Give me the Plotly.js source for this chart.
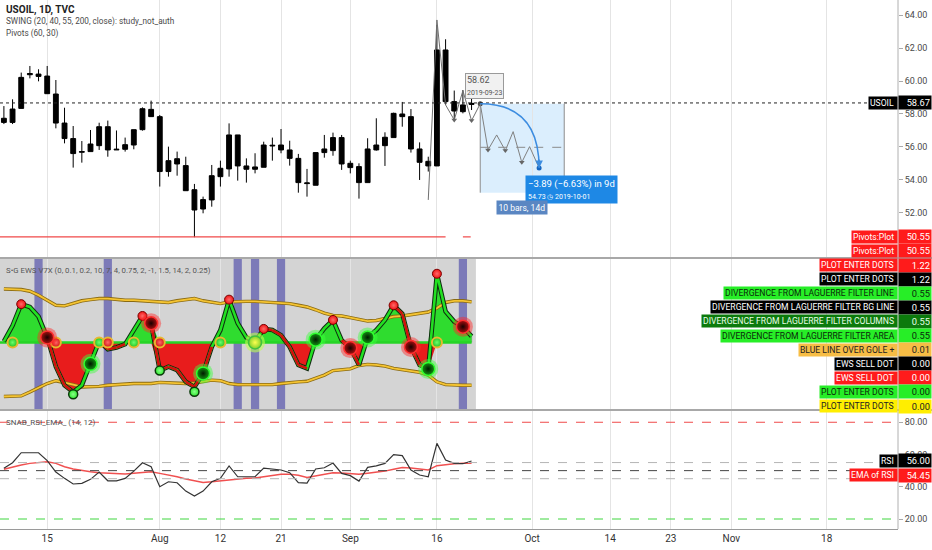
<!DOCTYPE html>
<html>
<head>
<meta charset="utf-8">
<script src="https://cdn.plot.ly/plotly-3.0.1.min.js"></script>
<style>body{margin:0;background:#fff} #plot{width:932px;height:550px}</style>
</head>
<body>
<div id="plot"></div>
<script>
// trading days shown (bar index = position in this list)
var dates = ['2019-07-08','2019-07-09','2019-07-10','2019-07-11','2019-07-12','2019-07-15','2019-07-16','2019-07-17','2019-07-18','2019-07-19',
  '2019-07-22','2019-07-23','2019-07-24','2019-07-25','2019-07-26','2019-07-29','2019-07-30','2019-07-31','2019-08-01','2019-08-02',
  '2019-08-05','2019-08-06','2019-08-07','2019-08-08','2019-08-09','2019-08-12','2019-08-13','2019-08-14','2019-08-15','2019-08-16',
  '2019-08-19','2019-08-20','2019-08-21','2019-08-22','2019-08-23','2019-08-26','2019-08-27','2019-08-28','2019-08-29','2019-08-30',
  '2019-09-02','2019-09-03','2019-09-04','2019-09-05','2019-09-06','2019-09-09','2019-09-10','2019-09-11','2019-09-12','2019-09-13',
  '2019-09-16','2019-09-17','2019-09-18','2019-09-19','2019-09-20'];

// USOIL daily candles
var open  = [57.49,57.49,58.34,60.38,60.42,60.30,59.21,57.45,56.51,55.68,55.72,56.08,57.23,55.82,55.86,56.12,57.05,58.28,57.84,54.51,
  55.29,54.87,53.41,52.24,52.79,54.20,54.67,56.73,54.85,54.65,54.77,56.06,56.12,55.82,55.31,53.78,53.68,55.66,55.78,56.57,
  55.01,54.81,53.84,55.82,56.08,56.57,58.00,57.84,55.88,55.13,54.85,61.88,58.75,58.14,58.58];
var high  = [58.48,58.89,60.51,60.91,60.71,60.91,60.06,58.38,57.27,56.36,57.03,57.47,57.60,57.00,56.57,57.05,58.40,58.81,57.94,56.02,
  55.72,55.41,53.76,52.99,54.91,55.17,57.43,56.73,55.31,55.62,56.32,56.57,57.09,56.38,55.58,54.67,55.66,56.73,56.87,56.73,
  55.17,55.01,56.53,57.74,56.89,58.08,58.73,58.30,56.28,55.41,63.40,62.53,59.42,59.45,59.15];
var low   = [57.39,57.39,58.34,60.16,59.98,59.23,57.13,56.22,54.75,55.05,55.72,55.82,55.41,55.82,55.72,55.86,56.99,57.84,53.60,54.20,
  54.26,53.35,50.53,51.98,52.38,53.60,54.20,53.96,53.84,54.40,54.77,55.17,55.62,54.87,53.23,52.99,53.68,55.35,55.47,54.61,
  54.40,52.87,53.84,55.78,54.85,56.57,57.23,55.66,54.00,54.51,54.85,58.55,57.64,58.04,58.24];
var close = [57.74,58.30,60.22,60.45,60.28,59.23,57.45,56.51,55.60,55.72,56.18,57.23,55.82,55.86,56.14,57.05,58.32,57.84,54.51,55.17,
  54.97,53.35,52.18,52.81,54.26,54.71,56.73,54.85,54.65,54.79,56.12,56.10,55.82,55.31,53.84,53.82,55.66,55.88,56.57,54.97,
  54.75,53.84,55.88,56.12,56.59,58.04,57.84,55.88,55.07,54.85,61.88,58.75,58.18,58.55,58.64];

// x axis ticks (bar index, label)
var tickIdx  = [5, 18, 25, 32, 40, 50, 61, 70, 77, 84, 95];
var tickText = ['15','Aug','12','21','Sep','16','Oct','14','23','Nov','18'];
var priceTicks = [52, 54, 56, 58, 60, 62, 64];
var rsiTicks = [20, 40, 60, 80];

// price levels and drawings
var lastPrice = 58.67;
var pivotLevel = 50.55;
var pivotSpans = [[-1, 51], [53, 53.9]];
var swingX = [49, 50, 51, 52, 53, 54, 55];
var swingY = [52.79, 63.70, 58.55, 57.64, 59.41, 57.60, 58.62];
var projX = [55, 55.9, 56.9, 57.9, 58.8, 59.8, 60.7, 61.8];
var projY = [58.62, 55.82, 56.73, 55.78, 56.93, 55.07, 56.02, 54.73];
var rangeStart = 55, rangeEnd = 64.7, rangeTop = 58.62, rangeBottom = 53.23, rangeMid = 55.98;

// S*G EWS oscillator
var osc = [0.02,0.30,0.68,0.63,0.46,0.09,-0.43,-0.76,-0.88,-0.76,-0.37,0.02,-0.12,-0.09,-0.03,0.22,0.47,0.34,-0.50,-0.43,
  -0.49,-0.70,-0.79,-0.55,-0.08,0.22,0.76,0.34,0.09,0.01,0.24,0.22,0.13,-0.08,-0.40,-0.46,0.05,0.25,0.40,0.04,
  -0.10,-0.40,0.09,0.22,0.40,0.66,0.51,-0.08,-0.40,-0.47,1.22,0.55,0.37,0.28,0.11];
var upperBand = [0.95,0.95,0.94,0.91,0.84,0.75,0.66,0.65,0.69,0.74,0.76,0.78,0.78,0.76,0.75,0.75,0.74,0.72,0.71,0.71,
  0.74,0.76,0.78,0.74,0.71,0.69,0.72,0.73,0.73,0.73,0.72,0.71,0.71,0.69,0.66,0.63,0.58,0.52,0.48,0.47,
  0.44,0.41,0.38,0.39,0.42,0.46,0.47,0.49,0.52,0.54,0.61,0.71,0.74,0.74,0.72];
var lowerBand = [-0.96,-0.96,-0.95,-0.88,-0.80,-0.73,-0.68,-0.71,-0.75,-0.79,-0.79,-0.78,-0.76,-0.75,-0.73,-0.73,-0.73,-0.73,-0.71,-0.72,
  -0.73,-0.73,-0.72,-0.69,-0.67,-0.68,-0.73,-0.75,-0.75,-0.75,-0.75,-0.75,-0.73,-0.71,-0.70,-0.69,-0.64,-0.58,-0.50,-0.48,
  -0.47,-0.41,-0.39,-0.40,-0.42,-0.46,-0.48,-0.50,-0.53,-0.58,-0.70,-0.75,-0.76,-0.76,-0.76];
var redSegs = [5,6,7,11,12,13,16,17,18,19,20,21,22,23,30,31,32,33,34,39,40,45,46,47,48];
var signalBars = [4, 12, 27, 29, 32, 53];
var smallRedIdx = [2, 16, 26, 30, 38, 45, 50], smallRedVal = [0.68, 0.47, 0.76, 0.24, 0.40, 0.66, 1.22];
var zeroRedIdx = [6, 12, 18];
var zeroGreenIdx = [1, 11, 15, 25, 50];
var bigRedIdx = [5, 17, 40, 47, 53], bigRedVal = [0.09, 0.34, -0.10, -0.08, 0.28];
var bigGreenIdx = [10, 23, 36, 42, 49], bigGreenVal = [-0.38, -0.55, 0.05, 0.09, -0.47];
var bigYellowIdx = [29];
var smallGreenIdx = [8, 18, 22], smallGreenVal = [-0.92, -0.50, -0.875];

// RSI + EMA of RSI
var rsi = [51.4,54.9,61.1,61.3,61.1,56.2,49.1,45.2,41.7,42.1,44.6,49.1,43.7,43.7,45.2,49.7,54.9,52.4,40.0,43.1,
  42.5,37.3,34.2,37.3,43.1,45.2,52.9,46.2,46.0,46.2,51.6,51.2,50.4,48.7,42.5,42.3,51.0,51.8,54.7,48.3,
  46.9,43.5,52.0,52.9,54.5,59.9,59.3,50.4,47.3,46.2,66.9,56.6,54.5,54.3,56.0];
var rsiEma = [50.8,52.2,53.5,54.5,55.1,55.5,54.5,52.4,51.0,50.0,49.3,48.7,48.3,48.1,47.9,48.3,48.9,49.3,48.3,47.3,
  46.2,44.8,43.7,42.7,43.1,43.7,44.4,45.0,45.2,45.4,46.2,46.9,47.7,47.7,47.1,45.8,46.9,47.7,48.7,48.5,
  48.3,47.7,48.3,48.9,49.7,50.8,52.0,51.6,51.0,50.4,53.1,53.9,54.3,54.5,54.5];
var rsiLevels = [80, 55, 50, 45, 20];
var rsiLevelColors = ['#f04a4a', '#b5b5b5', '#444444', '#b5b5b5', '#3ed63e'];

// right-hand value labels of the indicators
var labelNames = ['Pivots:Plot','Pivots:Plot','PLOT ENTER DOTS','PLOT ENTER DOTS','DIVERGENCE FROM LAGUERRE FILTER LINE',
  'DIVERGENCE FROM LAGUERRE FILTER BG LINE','DIVERGENCE FROM LAGUERRE FILTER COLUMNS','DIVERGENCE FROM LAGUERRE FILTER AREA',
  'BLUE LINE OVER GOLE +','EWS SELL DOT','EWS SELL DOT','PLOT ENTER DOTS','PLOT ENTER DOTS'];
var labelValues = ['50.55','50.55','1.22','1.22','0.55','0.55','0.55','0.55','0.01','0.00','0.00','0.00','0.00'];
var labelBg = ['#ff1b1b','#ff1b1b','#ff1b1b','#000000','#27ee27','#000000','#0c7a0c','#27ee27','#f7bd45','#000000','#ff1b1b','#27ee27','#ffee00'];
var labelFg = ['#fff','#fff','#fff','#fff','#0b2a0b','#fff','#e8ffe8','#0b2a0b','#222','#fff','#fff','#0b2a0b','#222'];

var PLOT_R = 898, PLOT_B = 529;
var FONT = "Roboto, 'Liberation Sans', sans-serif";
function px(x) { return x / PLOT_R; }
function py(y) { return (PLOT_B - y) / PLOT_B; }

var idx = dates.map(function (d, i) { return i; });
var n = idx.length;
function zeros(a) { return a.map(function () { return 0; }); }
// local lows of a zigzag get a small down arrow, as drawn by the pattern tool
function lows(xs, ys) {
  var ox = [], oy = [];
  for (var i = 1; i < ys.length; i++) {
    if (ys[i] < ys[i - 1] && (i === ys.length - 1 || ys[i] < ys[i + 1])) { ox.push(xs[i]); oy.push(ys[i]); }
  }
  return {x: ox, y: oy};
}

var data = [];

// ---------- price panel ----------
pivotSpans.forEach(function (s) {
  data.push({x: s, y: [pivotLevel, pivotLevel], xaxis: 'x', yaxis: 'y', type: 'scatter', mode: 'lines',
    line: {color: '#f04848', width: 1.2}, hoverinfo: 'skip'});
});
data.push({
  type: 'candlestick', x: idx, open: open, high: high, low: low, close: close, xaxis: 'x', yaxis: 'y',
  increasing: {line: {color: '#000', width: 1}, fillcolor: '#000'},
  decreasing: {line: {color: '#000', width: 1}, fillcolor: '#000'},
  whiskerwidth: 0, hoverinfo: 'none'
});
data.push({x: swingX, y: swingY, xaxis: 'x', yaxis: 'y', type: 'scatter', mode: 'lines',
  line: {color: '#6f6f6f', width: 1}, hoverinfo: 'skip'});
data.push({x: projX, y: projY, xaxis: 'x', yaxis: 'y', type: 'scatter', mode: 'lines',
  line: {color: '#808080', width: 1}, hoverinfo: 'skip'});
var swingLows = lows(swingX, swingY), projLows = lows(projX.slice(0, -1), projY.slice(0, -1));
data.push({x: swingLows.x.concat(projLows.x), y: swingLows.y.concat(projLows.y), xaxis: 'x', yaxis: 'y',
  type: 'scatter', mode: 'markers', marker: {symbol: 'triangle-down', size: 5, color: '#666'}, hoverinfo: 'skip'});
data.push({x: [projX[0], projX[projX.length - 1]], y: [projY[0], projY[projY.length - 1]], xaxis: 'x', yaxis: 'y',
  type: 'scatter', mode: 'markers', marker: {color: ['#444', '#1565c0'], size: 5}, hoverinfo: 'skip'});

// ---------- oscillator panel ----------
data.push({x: signalBars, y: signalBars.map(function () { return 2.7; }), base: -1.2, width: 0.95,
  type: 'bar', xaxis: 'x', yaxis: 'y2', marker: {color: '#7c7ab8', line: {width: 0}}, hoverinfo: 'skip'});
data.push({x: idx, y: osc.map(function (v) { return Math.max(v, 0); }), xaxis: 'x', yaxis: 'y2', type: 'scatter',
  mode: 'lines', fill: 'tozeroy', fillcolor: '#2fdc2f', line: {width: 0}, hoverinfo: 'skip'});
data.push({x: idx, y: osc.map(function (v) { return Math.min(v, 0); }), xaxis: 'x', yaxis: 'y2', type: 'scatter',
  mode: 'lines', fill: 'tozeroy', fillcolor: '#e81c1c', line: {width: 0}, hoverinfo: 'skip'});
data.push({x: idx, y: osc, width: 0.14, type: 'bar', xaxis: 'x', yaxis: 'y2',
  marker: {color: osc.map(function (v) { return v >= 0 ? 'rgba(0,110,0,0.35)' : 'rgba(120,0,0,0.35)'; })}, hoverinfo: 'skip'});
data.push({x: [-1, n - 1], y: [0, 0], xaxis: 'x', yaxis: 'y2', type: 'scatter', mode: 'lines',
  line: {color: '#26d426', width: 2.5}, hoverinfo: 'skip'});
[upperBand, lowerBand].forEach(function (b) {
  data.push({x: idx, y: b, xaxis: 'x', yaxis: 'y2', type: 'scatter', mode: 'lines',
    line: {color: '#8a6a12', width: 3.4}, hoverinfo: 'skip'});
  data.push({x: idx, y: b, xaxis: 'x', yaxis: 'y2', type: 'scatter', mode: 'lines',
    line: {color: '#f5c432', width: 1.8}, hoverinfo: 'skip'});
});
data.push({x: idx, y: osc, xaxis: 'x', yaxis: 'y2', type: 'scatter', mode: 'lines',
  line: {color: '#102a10', width: 4.6}, hoverinfo: 'skip'});
data.push({x: idx, y: osc, xaxis: 'x', yaxis: 'y2', type: 'scatter', mode: 'lines',
  line: {color: '#22e022', width: 2.6}, hoverinfo: 'skip'});
var redX = [], redY = [];
redSegs.forEach(function (i) { redX.push(idx[i], idx[i + 1], null); redY.push(osc[i], osc[i + 1], null); });
data.push({x: redX, y: redY, xaxis: 'x', yaxis: 'y2', type: 'scatter', mode: 'lines',
  line: {color: '#d40d0d', width: 2.6}, connectgaps: false, hoverinfo: 'skip'});

function dots(xs, ys, size, color, center, lineColor, lineW, halo) {
  if (halo) {
    data.push({x: xs, y: ys, xaxis: 'x', yaxis: 'y2', type: 'scatter', mode: 'markers',
      marker: {size: size + 7, color: halo}, hoverinfo: 'skip'});
  }
  var m = {size: size, color: color, line: {color: lineColor, width: lineW}};
  if (center) m.gradient = {type: 'radial', color: center};
  data.push({x: xs, y: ys, xaxis: 'x', yaxis: 'y2', type: 'scatter', mode: 'markers', marker: m, hoverinfo: 'skip'});
}
dots(zeroGreenIdx, zeros(zeroGreenIdx), 10, '#20c020', '#6cff6c', '#e8b830', 2, null);
dots(zeroRedIdx, zeros(zeroRedIdx), 10, '#d01010', '#ff6a6a', '#e8b830', 2, null);
dots(smallRedIdx, smallRedVal, 9, '#f01414', '#ff6a6a', '#7a0000', 1, null);
dots(smallGreenIdx, smallGreenVal, 9, '#2ee82e', '#8aff8a', '#0a3a0a', 1.5, null);
dots(bigRedIdx, bigRedVal, 13, '#b01010', '#1a0000', '#ff3030', 1.5, 'rgba(255,40,40,0.45)');
dots(bigGreenIdx, bigGreenVal, 13, '#129a12', '#001a00', '#30ff30', 1.5, 'rgba(60,255,60,0.45)');
dots(bigYellowIdx, zeros(bigYellowIdx), 13, '#7fd02a', '#ffff50', '#40c040', 1.5, 'rgba(190,255,80,0.6)');

// ---------- RSI panel ----------
data.push({x: idx, y: rsiEma, xaxis: 'x', yaxis: 'y3', type: 'scatter', mode: 'lines',
  line: {color: '#f05050', width: 1.5}, hoverinfo: 'skip'});
data.push({x: idx, y: rsi, xaxis: 'x', yaxis: 'y3', type: 'scatter', mode: 'lines',
  line: {color: '#333333', width: 1.2}, hoverinfo: 'skip'});

// ---------- shapes ----------
var shapes = [];
shapes.push({type: 'rect', xref: 'x', yref: 'y2 domain', x0: -2, x1: n - 0.5, y0: 0, y1: 1,
  fillcolor: '#d4d4d4', line: {width: 0}, layer: 'below'});
shapes.push({type: 'line', xref: 'paper', yref: 'y', x0: 0, x1: 1, y0: lastPrice, y1: lastPrice,
  line: {color: '#222', width: 1, dash: 'dot'}});
shapes.push({type: 'rect', xref: 'x', yref: 'y', x0: rangeStart, x1: rangeEnd, y0: rangeBottom, y1: rangeTop,
  fillcolor: 'rgba(33,150,243,0.16)', line: {width: 0}, layer: 'below'});
[rangeStart, rangeEnd].forEach(function (xe) {
  shapes.push({type: 'line', xref: 'x', yref: 'y', x0: xe, x1: xe, y0: rangeBottom, y1: rangeTop,
    line: {color: '#8c8c8c', width: 1}});
});
shapes.push({type: 'line', xref: 'x', yref: 'y', x0: rangeStart, x1: rangeEnd, y0: rangeMid, y1: rangeMid,
  line: {color: '#8a8a8a', width: 1, dash: 'dash'}});
shapes.push({type: 'path', xref: 'x', yref: 'y',
  path: 'M' + rangeStart + ',' + rangeTop + ' Q' + projX[projX.length - 1] + ',' + rangeTop + ' ' +
        projX[projX.length - 1] + ',' + projY[projY.length - 1],
  line: {color: '#3c8ce0', width: 1.5}});
rsiLevels.forEach(function (v, k) {
  shapes.push({type: 'line', xref: 'paper', yref: 'y3', x0: 0, x1: 1, y0: v, y1: v,
    line: {color: rsiLevelColors[k], width: 1, dash: 'dash'}});
});
[258, 410].forEach(function (yy) {
  shapes.push({type: 'line', xref: 'paper', yref: 'paper', x0: 0, x1: 932 / PLOT_R, y0: py(yy), y1: py(yy),
    line: {color: '#a8a8a8', width: 2}});
});
shapes.push({type: 'line', xref: 'paper', yref: 'paper', x0: 1, x1: 1, y0: 0, y1: 1,
  line: {color: '#b0b0b0', width: 1}});

// ---------- annotations ----------
var ann = [];
function txt(x, y, t, size, color, bold) {
  ann.push({xref: 'paper', yref: 'paper', x: px(x), y: py(y), xanchor: 'left', yanchor: 'middle', showarrow: false,
    text: bold ? '<b>' + t + '</b>' : t, font: {family: FONT, size: size, color: color}});
}
txt(4, 10, 'USOIL, 1D, TVC', 10, '#222', true);
txt(4, 22, 'SWING (20, 40, 55, 200, close): study_not_auth', 8.2, '#4a4a4a');
txt(4, 33, 'Pivots (60, 30)', 8.2, '#4a4a4a');
txt(4, 270, 'S\u2022G EWS V7X (0, 0.1, 0.2, 10, 7, 4, 0.75, 2, -1, 1.5, 14, 2, 0.25)', 7.8, '#555');
txt(4, 422, 'SNAB_RSI_EMA_ (14, 12)', 8, '#555');

function sideLabel(name, value, bg, fg, yref, y, yshift) {
  var base = {xref: 'paper', yref: yref, y: y, yshift: yshift || 0, yanchor: 'middle', showarrow: false,
    bgcolor: bg, borderpad: 1};
  ann.push(Object.assign({}, base, {x: 1, xanchor: 'right', text: name + '\u00a0', font: {family: FONT, size: 8.6, color: fg}}));
  ann.push(Object.assign({}, base, {x: 1, xanchor: 'left', text: value, width: 30, align: 'right',
    font: {family: FONT, size: 9.3, color: fg}}));
}
sideLabel('USOIL', lastPrice.toFixed(2), '#000', '#fff', 'y', lastPrice, 0);
labelNames.forEach(function (nm, k) {
  if (k === 0) sideLabel(nm, labelValues[k], labelBg[k], labelFg[k], 'y', pivotLevel, 0);
  else sideLabel(nm, labelValues[k], labelBg[k], labelFg[k], 'paper', py(236.8 + k * 14.1), 0);
});
sideLabel('RSI', rsi[n - 1].toFixed(2), '#000', '#fff', 'y3', rsi[n - 1], 0);
sideLabel('EMA of RSI', '54.45', '#ff1b1b', '#fff', 'y3', rsiEma[n - 1], -12);

// drawing labels
ann.push({xref: 'x', yref: 'y', x: rangeStart, y: rangeTop, yanchor: 'bottom', xshift: 4, yshift: 5, showarrow: false,
  text: '58.62<br><span style="font-size:7px">2019-09-23</span>', align: 'left',
  font: {family: FONT, size: 9, color: '#555'}, bgcolor: '#f1f1f1', bordercolor: '#9a9a9a', borderwidth: 1, borderpad: 1});
ann.push({xref: 'x', yref: 'y', x: projX[projX.length - 1], y: projY[projY.length - 1], xanchor: 'left', yanchor: 'top',
  xshift: -14, yshift: -7, showarrow: false, align: 'left',
  text: '\u22123.89 (\u22126.63%) in 9d<br><span style="font-size:7px">54.73 \u25F7 2019-10-01</span>',
  font: {family: FONT, size: 9.5, color: '#fff'}, bgcolor: '#1e88e5', borderpad: 2});
ann.push({xref: 'x', yref: 'y', x: (rangeStart + rangeEnd) / 2, y: rangeBottom, yanchor: 'top', yshift: -7,
  showarrow: false, text: '10 bars, 14d', font: {family: FONT, size: 8.5, color: '#fff'}, bgcolor: '#5a86c2', borderpad: 1.5});
ann.push({xref: 'x', yref: 'y', x: projX[projX.length - 1], y: projY[projY.length - 1], ax: 0, ay: -10,
  showarrow: true, arrowhead: 2, arrowsize: 1, arrowwidth: 1.5, arrowcolor: '#3c8ce0', text: ''});

var axisFont = {family: FONT, size: 9, color: '#4a4a4a'};
var layout = {
  width: 932, height: 550,
  margin: {l: 0, r: 34, t: 0, b: 21, pad: 0},
  paper_bgcolor: '#ffffff', plot_bgcolor: '#ffffff',
  showlegend: false, barmode: 'overlay', boxgap: 0.2, dragmode: false,
  font: {family: FONT, size: 10, color: '#444'},
  xaxis: {range: [-0.45, 103.24], tickmode: 'array', tickvals: tickIdx, ticktext: tickText,
    showgrid: true, gridcolor: '#e4e4e4', gridwidth: 1, zeroline: false, showline: true, linecolor: '#9a9a9a',
    ticks: '', tickfont: {family: FONT, size: 10, color: '#333'}, anchor: 'y3',
    rangeslider: {visible: false}, fixedrange: true},
  yaxis: {domain: [py(258), 1], range: [49.27, 64.91], side: 'right', anchor: 'x',
    tickmode: 'array', tickvals: priceTicks, ticktext: priceTicks.map(function (v) { return v.toFixed(2); }),
    showgrid: false, zeroline: false, ticks: 'outside', ticklen: 4, tickcolor: '#aaa', tickfont: axisFont, fixedrange: true},
  yaxis2: {domain: [py(410), py(258)], range: [-1.2, 1.5], anchor: 'x', showticklabels: false,
    showgrid: false, zeroline: false, fixedrange: true},
  yaxis3: {domain: [0, py(410)], range: [13.8, 87.6], side: 'right', anchor: 'x',
    tickmode: 'array', tickvals: rsiTicks, ticktext: rsiTicks.map(function (v) { return v.toFixed(2); }),
    showgrid: false, zeroline: false, ticks: 'outside', ticklen: 4, tickcolor: '#aaa', tickfont: axisFont, fixedrange: true},
  shapes: shapes,
  annotations: ann
};

Plotly.newPlot('plot', data, layout, {staticPlot: true, displayModeBar: false});
</script>
</body>
</html>
